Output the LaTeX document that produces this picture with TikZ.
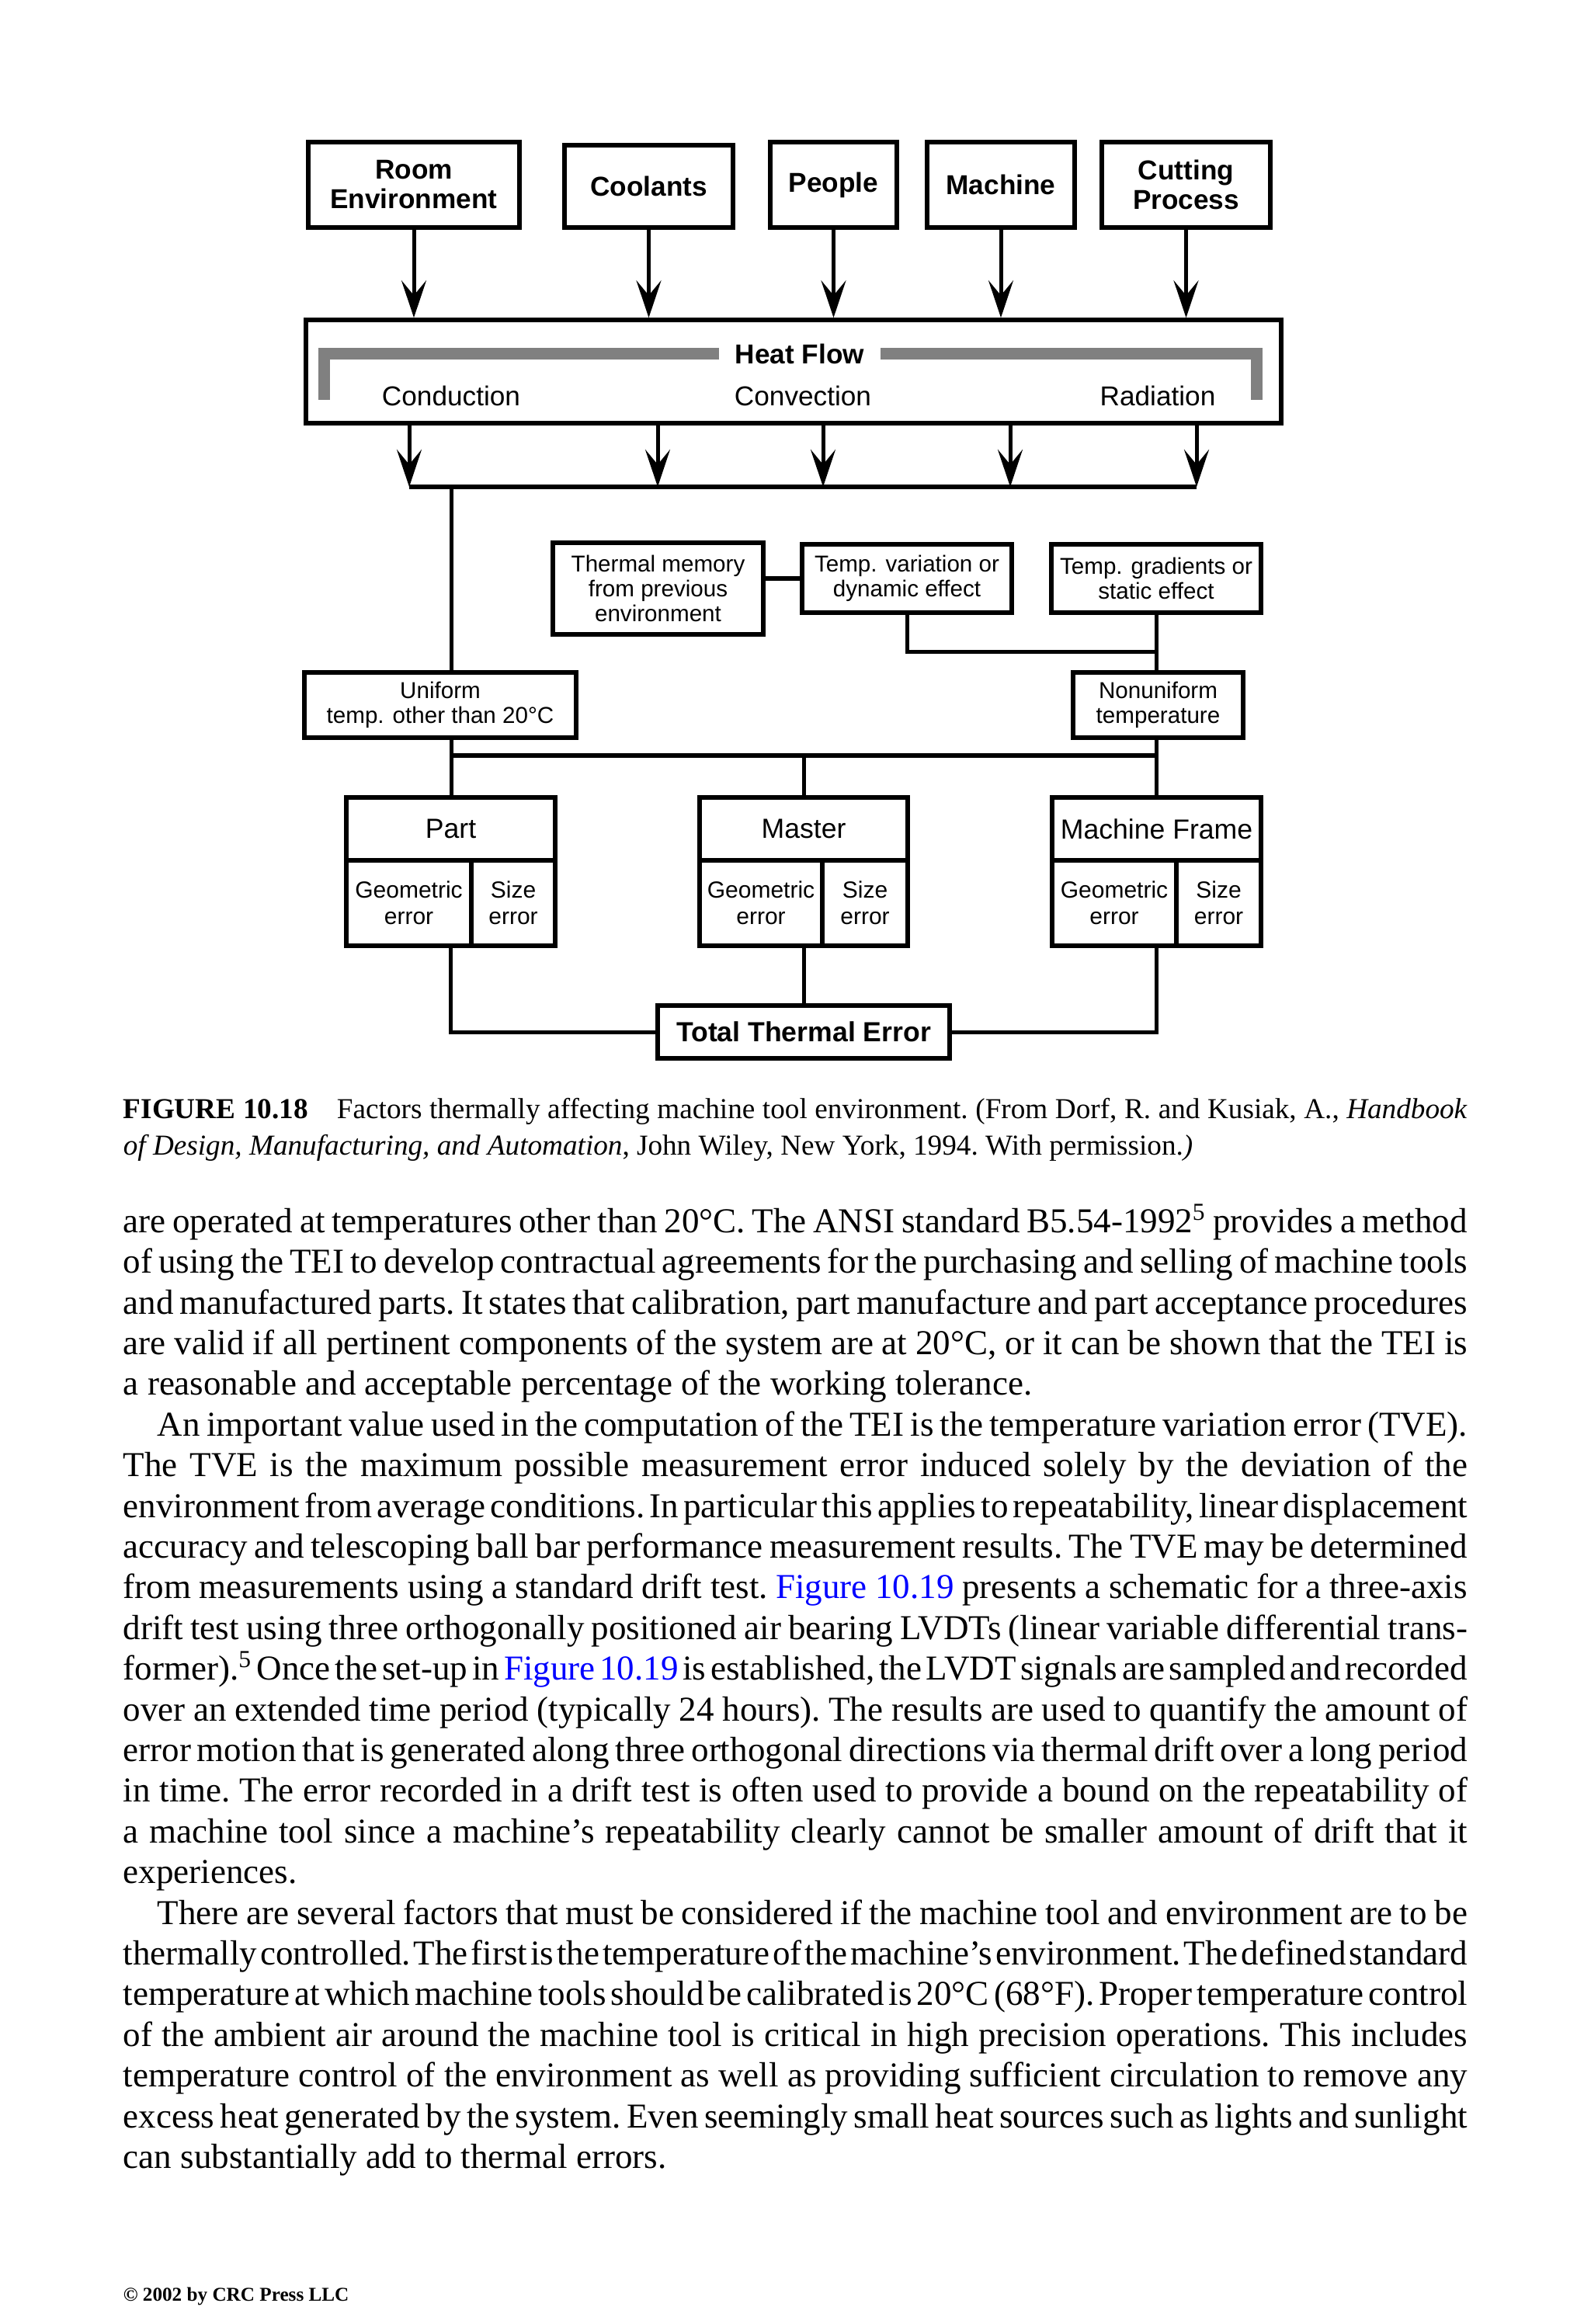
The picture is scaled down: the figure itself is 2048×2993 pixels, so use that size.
\documentclass[tikz,border=0pt]{standalone}
\usepackage{fontspec}
\setmainfont{Liberation Serif}
\setsansfont{Liberation Sans}
\usetikzlibrary{arrows.meta}
\definecolor{barGray}{RGB}{128,128,128}
\definecolor{linkBlue}{RGB}{0,0,255}

\begin{document}
\begin{tikzpicture}[x=0.25pt,y=0.25pt,yscale=-1,
  blk/.style={draw,line width=1.4pt,inner sep=0pt,align=center},
  srcbox/.style={blk,font=\sffamily\bfseries\fontsize{8.8}{9.5}\selectfont},
  notebox/.style={blk,font=\sffamily\fontsize{7.4}{8}\selectfont},
  headbox/.style={blk,font=\sffamily\fontsize{8.9}{10}\selectfont},
  errbox/.style={blk,font=\sffamily\fontsize{7.5}{8.5}\selectfont},
  hflabel/.style={inner sep=0pt,font=\sffamily\fontsize{8.8}{10}\selectfont},
  wire/.style={line width=1.25pt},
  bus/.style={line width=1.4pt},
  flow/.style={wire,-{Stealth[length=12pt,width=8pt,inset=4.8pt]}},
  graybar/.style={line width=3.75pt,draw=barGray},
  pagetext/.style={anchor=north west,inner sep=0pt,text width=432.75pt,align=justify}]

\useasboundingbox (0,0) rectangle (2048,2993);

\node[srcbox,minimum width=68pt,minimum height=27.5pt] (room) at (533,238) {Room\\Environment};
\node[srcbox,minimum width=54.25pt,minimum height=26.5pt] (coolants) at (835.5,240) {Coolants};
\node[srcbox,minimum width=40.75pt,minimum height=27.5pt] (people) at (1073.5,238) {People};
\node[srcbox,minimum width=47.5pt,minimum height=27.5pt] (machine) at (1289,238) {Machine};
\node[srcbox,minimum width=54.25pt,minimum height=27.5pt] (cutting) at (1527.5,238) {Cutting\\Process};

\node[blk,minimum width=314pt,minimum height=33.25pt] (heat) at (1022,478.5) {};
\node[hflabel,font=\sffamily\bfseries\fontsize{8.8}{10}\selectfont,inner sep=5pt] (heatlbl) at (1030,456) {Heat Flow};
\node[hflabel] (conduction) at (581,510) {Conduction};
\node[hflabel] (convection) at (1034,510) {Convection};
\node[hflabel] (radiation) at (1491,510) {Radiation};
\draw[graybar] (heatlbl.west) -| (417.5,515);
\draw[graybar] (heatlbl.east) -| (1618.5,515);

\draw[flow] (room.south) -- (room.south |- heat.north);
\draw[flow] (coolants.south) -- (coolants.south |- heat.north);
\draw[flow] (people.south) -- (people.south |- heat.north);
\draw[flow] (machine.south) -- (machine.south |- heat.north);
\draw[flow] (cutting.south) -- (cutting.south |- heat.north);

\coordinate (b1) at (527,627);
\coordinate (b2) at (847,627);
\coordinate (b3) at (1060,627);
\coordinate (b4) at (1301,627);
\coordinate (b5) at (1541,627);
\draw[flow] (b1 |- heat.south) -- (b1);
\draw[flow] (b2 |- heat.south) -- (b2);
\draw[flow] (b3 |- heat.south) -- (b3);
\draw[flow] (b4 |- heat.south) -- (b4);
\draw[flow] (b5 |- heat.south) -- (b5);
\draw[bus] (b1) -- (b5);

\node[notebox,minimum width=67.75pt,minimum height=29.5pt] (memory) at (847.5,758) {Thermal memory\\from previous\\environment};
\node[notebox,minimum width=67.5pt,minimum height=22pt] (variation) at (1168,745) {Temp. variation or\\dynamic effect};
\node[notebox,minimum width=67.5pt,minimum height=22pt] (gradients) at (1489,745) {Temp. gradients or\\static effect};
\node[notebox,minimum width=87.5pt,minimum height=21pt] (uniform) at (567,908) {Uniform\\temp. other than 20°C};
\node[notebox,minimum width=54.75pt,minimum height=21pt] (nonuniform) at (1491.5,908) {Nonuniform\\temperature};

\coordinate (tap) at (581,627);
\coordinate (mid) at (1489,840);
\draw[wire] (tap) -- (tap |- uniform.north);
\draw[bus] (memory.east |- variation.west) -- (variation.west);
\draw[wire] (variation.south) |- (mid);
\draw[wire] (gradients.south) -- (gradients.south |- nonuniform.north);

\node[headbox,minimum width=67.25pt,minimum height=20.25pt] (parthd) at (580.5,1067.5) {Part};
\node[errbox,minimum width=40.25pt,minimum height=27.5pt] (partgeo) at (526.5,1163) {Geometric\\error};
\node[errbox,minimum width=27pt,minimum height=27.5pt] (partsize) at (661,1163) {Size\\error};
\node[headbox,minimum width=67pt,minimum height=20.25pt] (masterhd) at (1035,1067.5) {Master};
\node[errbox,minimum width=39.5pt,minimum height=27.5pt] (mastergeo) at (980,1163) {Geometric\\error};
\node[errbox,minimum width=27.5pt,minimum height=27.5pt] (mastersize) at (1114,1163) {Size\\error};
\node[headbox,minimum width=67.25pt,minimum height=20.25pt] (framehd) at (1489.5,1067.5) {Machine Frame};
\node[errbox,minimum width=40pt,minimum height=27.5pt] (framegeo) at (1435,1163) {Geometric\\error};
\node[errbox,minimum width=27.25pt,minimum height=27.5pt] (framesize) at (1569.5,1163) {Size\\error};

\coordinate (jl) at (581,973);
\coordinate (jr) at (1489,973);
\draw[wire] (uniform.south -| jl) -- (jl);
\draw[wire] (nonuniform.south -| jr) -- (jr);
\draw[bus] (jl) -- (jr);
\draw[wire] (jl) -- (jl |- parthd.north);
\draw[wire] (masterhd.north |- jl) -- (masterhd.north);
\draw[wire] (jr) -- (jr |- framehd.north);

\node[srcbox,font=\sffamily\bfseries\fontsize{8.9}{10}\selectfont,minimum width=94pt,minimum height=17pt] (tte) at (1035,1329) {Total Thermal Error};
\draw[wire] (parthd.center |- partgeo.south) |- (tte.west);
\draw[wire] (masterhd.center |- mastergeo.south) -- (tte.north);
\draw[wire] (framehd.center |- framegeo.south) |- (tte.east);

\node[pagetext,font=\fontsize{9.3}{11.75}\selectfont] (caption) at (158,1413) {\frenchspacing\spaceskip=0.25em plus 0.3em minus 0.15em\relax
\textbf{FIGURE 10.18}\quad Factors thermally affecting machine tool environment. (From Dorf, R. and Kusiak, A., \textit{Handbook}\linebreak
\textit{of Design, Manufacturing, and Automation}, John Wiley, New York, 1994. With permission.\textit{)}};

\node[pagetext,font=\fontsize{11.25}{13.1}\selectfont] (body) at (158,1550) {\parindent=0pt\parskip=0pt\hyphenpenalty=10000\exhyphenpenalty=10000\tolerance=9999
\frenchspacing\spaceskip=0.25em plus 0.3em minus 0.23em\relax
are operated at temperatures other than 20°C. The ANSI standard B5.54-1992\textsuperscript{5} provides a method\linebreak
of using the TEI to develop contractual agreements for the purchasing and selling of machine tools\linebreak
and manufactured parts. It states that calibration, part manufacture and part acceptance procedures\linebreak
are valid if all pertinent components of the system are at 20°C, or it can be shown that the TEI is\linebreak
a reasonable and acceptable percentage of the working tolerance.\par
\hspace*{11pt}An important value used in the computation of the TEI is the temperature variation error (TVE).\linebreak
The TVE is the maximum possible measurement error induced solely by the deviation of the\linebreak
environment from average conditions. In particular this applies to repeatability, linear displacement\linebreak
accuracy and telescoping ball bar performance measurement results. The TVE may be determined\linebreak
from measurements using a standard drift test. {\color{linkBlue}Figure 10.19} presents a schematic for a three-axis\linebreak
drift test using three orthogonally positioned air bearing LVDTs (linear variable differential trans-\linebreak
former).\textsuperscript{5} Once the set-up in {\color{linkBlue}Figure 10.19} is established, the LVDT signals are sampled and recorded\linebreak
over an extended time period (typically 24 hours). The results are used to quantify the amount of\linebreak
error motion that is generated along three orthogonal directions via thermal drift over a long period\linebreak
in time. The error recorded in a drift test is often used to provide a bound on the repeatability of\linebreak
a machine tool since a machine’s repeatability clearly cannot be smaller amount of drift that it\linebreak
experiences.\par
\hspace*{11pt}There are several factors that must be considered if the machine tool and environment are to be\linebreak
thermally controlled. The first is the temperature of the machine’s environment. The defined standard\linebreak
temperature at which machine tools should be calibrated is 20°C (68°F). Proper temperature control\linebreak
of the ambient air around the machine tool is critical in high precision operations. This includes\linebreak
temperature control of the environment as well as providing sufficient circulation to remove any\linebreak
excess heat generated by the system. Even seemingly small heat sources such as lights and sunlight\linebreak
can substantially add to thermal errors.\par};

\node[anchor=west,inner sep=0pt,font=\bfseries\fontsize{6.3}{7}\selectfont] (footer) at (158,2957) {© 2002 by CRC Press LLC};

\end{tikzpicture}
\end{document}
